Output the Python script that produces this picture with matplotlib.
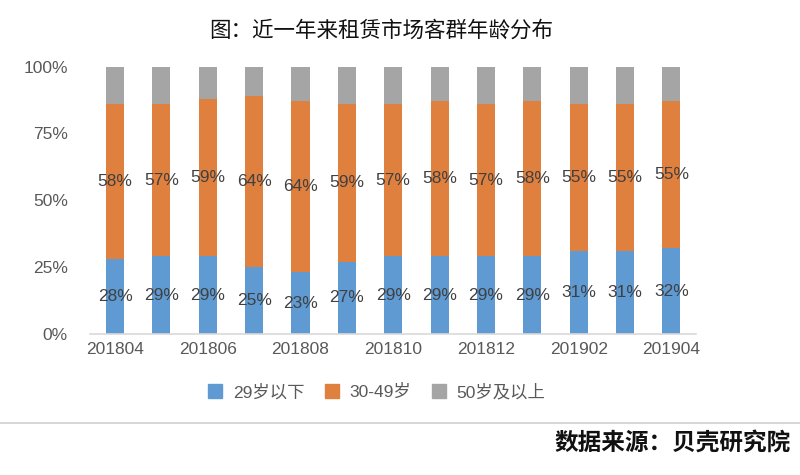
import numpy as np
import matplotlib.pyplot as plt
from matplotlib.lines import Line2D

plt.rcParams['font.family'] = ['Liberation Sans', 'Noto Sans CJK SC', 'DejaVu Sans']

months = ['201804', '201805', '201806', '201807', '201808', '201809', '201810',
          '201811', '201812', '201901', '201902', '201903', '201904']
young = [28, 29, 29, 25, 23, 27, 29, 29, 29, 29, 31, 31, 32]
middle = [58, 57, 59, 64, 64, 59, 57, 58, 57, 58, 55, 55, 55]
old = [14, 14, 12, 11, 13, 14, 14, 13, 14, 13, 14, 14, 13]
series_names = ['29岁以下', '30-49岁', '50岁及以上']
colors = ['#5F9AD3', '#E0803F', '#A5A5A5']

fig = plt.figure(figsize=(8, 4.75), dpi=100)
ax = fig.add_axes([0.1125, 0.297, 0.7575, 0.563])

x = np.arange(len(months))
young_a = np.array(young)
middle_a = np.array(middle)
old_a = np.array(old)
w = 0.39
ax.bar(x, young_a, w, color=colors[0])
ax.bar(x, middle_a, w, bottom=young_a, color=colors[1])
ax.bar(x, old_a, w, bottom=young_a + middle_a, color=colors[2])

for i in range(len(x)):
    ax.text(x[i], young_a[i] / 2, f'{young[i]}%', ha='center', va='center',
            fontsize=12.5, color='#404040')
    ax.text(x[i], young_a[i] + middle_a[i] / 2, f'{middle[i]}%', ha='center',
            va='center', fontsize=12.5, color='#404040')

ax.set_xlim(-0.54, 12.53)
ax.set_ylim(0, 100)
ax.set_yticks([0, 25, 50, 75, 100])
ax.set_yticklabels(['0%', '25%', '50%', '75%', '100%'])
ax.set_xticks(x[::2])
ax.set_xticklabels(months[::2])
ax.tick_params(axis='both', length=0, labelsize=12.5, colors='#595959')
ax.tick_params(axis='y', pad=16)
ax.tick_params(axis='x', pad=6)
for s in ['top', 'right', 'left']:
    ax.spines[s].set_visible(False)
ax.spines['bottom'].set_color('#D9D9D9')
ax.spines['bottom'].set_linewidth(1.2)

handles = [Line2D([], [], marker='s', linestyle='none', markersize=10,
                  markerfacecolor=c, markeredgecolor=c) for c in colors]
fig.legend(handles, series_names, loc='center', bbox_to_anchor=(0.471, 0.175),
           ncol=3, frameon=False, fontsize=12.5, handlelength=0.8,
           handletextpad=0.6, columnspacing=1.2, labelcolor='#595959')

fig.text(0.477, 0.935, '图：近一年来租赁市场客群年龄分布', ha='center', va='center',
         fontsize=15.5, color='#111111', fontweight='medium')
fig.add_artist(Line2D([0, 1], [1 - 422.5 / 475] * 2, color='#D0D0D0', lw=1.2))
fig.text(0.989, 1 - 443 / 475, '数据来源：贝壳研究院', ha='right', va='center',
         fontsize=17, color='#111111', fontweight='bold')

fig.savefig('out.png', dpi=100)
